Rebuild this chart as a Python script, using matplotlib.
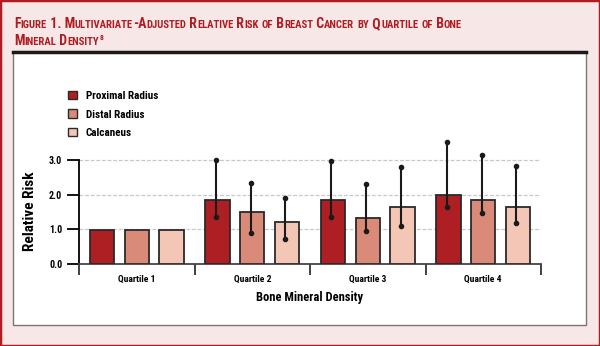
import numpy as np
import matplotlib
matplotlib.use("Agg")
import matplotlib.pyplot as plt
from matplotlib.patches import Rectangle, Patch
from matplotlib.lines import Line2D

plt.rcParams['font.family'] = ['Roboto Condensed', 'Liberation Sans', 'DejaVu Sans']

# data
quartiles = ['Quartile 1', 'Quartile 2', 'Quartile 3', 'Quartile 4']
sites = ['Proximal Radius', 'Distal Radius', 'Calcaneus']
proximal = [0.97, 1.84, 1.84, 1.99]
distal = [0.97, 1.49, 1.33, 1.84]
calcaneus = [0.97, 1.22, 1.65, 1.65]
# confidence limits (Quartile 1 is the reference, no interval)
proximal_lo = [np.nan, 1.35, 1.35, 1.65]
proximal_hi = [np.nan, 3.00, 2.98, 3.50]
distal_lo = [np.nan, 0.90, 0.95, 1.46]
distal_hi = [np.nan, 2.34, 2.30, 3.14]
calcaneus_lo = [np.nan, 0.72, 1.10, 1.17]
calcaneus_hi = [np.nan, 1.89, 2.78, 2.83]

colors = ['#ad1f23', '#d98a78', '#f3c6b6']
red = '#b01c22'

fig = plt.figure(figsize=(6, 3.46), dpi=100, facecolor='#f7e7e7')
W, H = 600, 346

def px(x, y):
    return x / W, 1 - y / H

# outer red border
fig.patches.append(Rectangle((0, 0), 1, 1, transform=fig.transFigure, fill=False,
                             edgecolor=red, linewidth=2.5, zorder=-2))
# white panel
x0, y0 = px(13, 325)
x1, y1 = px(586, 52)
fig.patches.append(Rectangle((x0, y0), x1 - x0, y1 - y0, transform=fig.transFigure,
                             facecolor='white', edgecolor='#777777', linewidth=1, zorder=-2))
fig.lines.append(Line2D([x0, x1], [y1, y1], transform=fig.transFigure, color='#1a1a1a',
                        linewidth=2.5, zorder=-1))

# small caps title
renderer = fig.canvas.get_renderer()

def small_caps(text, x, y, big=10, small=7.7):
    xp = x
    runs = []
    for ch in text:
        size = small if ch.islower() else big
        if runs and runs[-1][1] == size:
            runs[-1][0] += ch.upper()
        else:
            runs.append([ch.upper(), size])
    for s, size in runs:
        t = fig.text(xp, y, s, fontsize=size, fontweight='bold', color=red,
                     transform=None, va='baseline')
        xp = t.get_window_extent(renderer).x1
    return xp

small_caps('Figure 1. Multivariate-Adjusted Relative Risk of Breast Cancer by Quartile of Bone', 14, H - 28)
xe = small_caps('Mineral Density', 14, H - 45)
fig.text(xe + 1, H - 40, '8', fontsize=5.5, fontweight='bold', color=red, transform=None)

ax = fig.add_axes([79 / W, 1 - 264 / H, (541 - 79) / W, (264 - 139) / H])
ax.set_facecolor('none')
x = np.arange(len(quartiles))
off = 0.3
bw = 0.21
series = [(proximal, proximal_lo, proximal_hi), (distal, distal_lo, distal_hi),
          (calcaneus, calcaneus_lo, calcaneus_hi)]
for i, (vals, lo, hi) in enumerate(series):
    xs = x + (i - 1) * off
    ax.bar(xs, vals, bw, color=colors[i], edgecolor='#2a2a2a', linewidth=1.3, zorder=3)
    xe_ = xs - 0.015
    ax.vlines(xe_, lo, hi, color='#1a1a1a', linewidth=1.5, zorder=4)
    ax.plot(xe_, lo, 'o', color='#1a1a1a', markersize=3, zorder=5)
    ax.plot(xe_, hi, 'o', color='#1a1a1a', markersize=3, zorder=5)

ax.set_xlim(-0.5, 3.5)
ax.set_ylim(0, 3.6)
for yv in [1, 2, 3]:
    ax.axhline(yv, color='#c8c8c8', linestyle=(0, (3, 1.5)), linewidth=0.9, zorder=1)

for s in ['top', 'right']:
    ax.spines[s].set_visible(False)
ax.spines['left'].set_bounds(0, 3)
ax.spines['left'].set_linewidth(1.3)
ax.spines['bottom'].set_linewidth(1.3)
ax.spines['bottom'].set_color('#444444')
ax.set_yticks([0, 1, 2, 3])
ax.set_yticklabels(['0.0', '1.0', '2.0', '3.0'], fontsize=7.2, fontweight='bold')
ax.tick_params(axis='y', length=9, width=1.3, pad=3)
ax.set_xticks(x)
ax.set_xticklabels(quartiles, fontsize=6.8, fontweight='bold')
ax.set_xticks([-0.5, 0.5, 1.5, 2.5, 3.5], minor=True)
ax.tick_params(axis='x', which='major', length=0, pad=8)
ax.tick_params(axis='x', which='minor', length=8, width=1.3, color='#333333')
ax.set_xlabel('Bone Mineral Density', fontsize=9, fontweight='bold')
ax.xaxis.set_label_coords(0.5, -(298 - 264) / 125, transform=ax.transAxes)
ax.xaxis.label.set_va('center')
ax.set_ylabel('Relative Risk', fontsize=11, fontweight='bold')
ax.yaxis.set_label_coords((30 - 79) / 462, (264 - 211) / 125)
ax.yaxis.label.set_va('center')

leg_handles = [Patch(facecolor=c, edgecolor='#2a2a2a', linewidth=1) for c in colors]
fig.legend(leg_handles, sites, loc='upper left', bbox_to_anchor=(58 / W, 1 - 81 / H),
           frameon=False, handlelength=0.8, handleheight=0.8, handletextpad=0.8,
           labelspacing=0.75, prop={'weight': 'bold', 'size': 8})

fig.savefig('out.png', dpi=100, facecolor=fig.get_facecolor())
